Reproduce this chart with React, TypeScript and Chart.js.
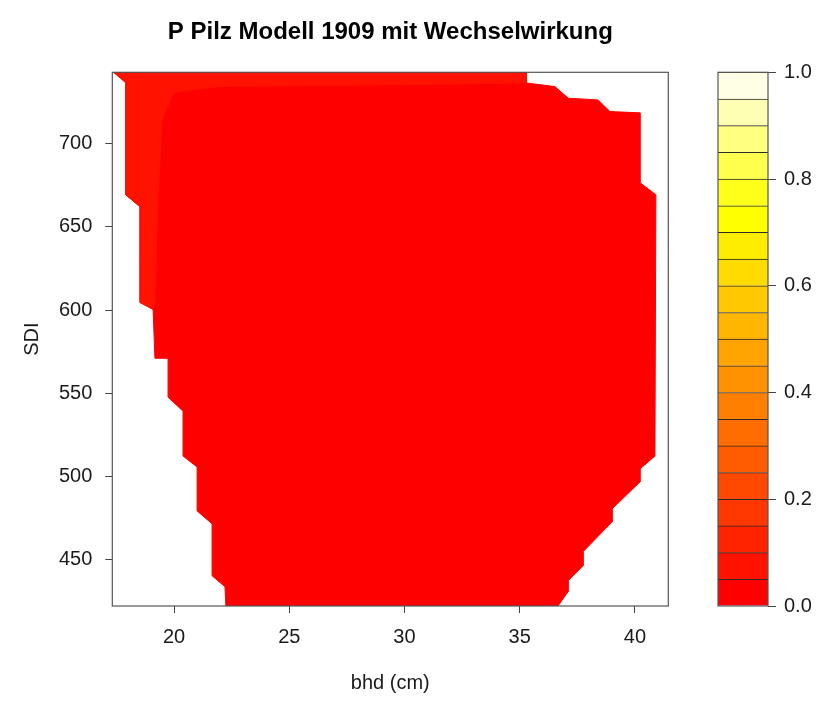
import React, { useEffect, useRef } from "react";
import { Chart, registerables } from "chart.js";

Chart.register(...registerables);

// ---- data ----
const TITLE = "P Pilz Modell 1909 mit Wechselwirkung";
const X_LABEL = "bhd (cm)";
const Y_LABEL = "SDI";

const X_MIN = 17.32;
const X_MAX = 41.45;
const Y_MIN = 422;
const Y_MAX = 743;

const xTicks = [20, 25, 30, 35, 40];
const yTicks = [450, 500, 550, 600, 650, 700];
const keyTicks = [0, 0.2, 0.4, 0.6, 0.8, 1.0];

// contour levels (0 .. 1 by 0.05)
const levels = [0, 0.05, 0.1, 0.15, 0.2, 0.25, 0.3, 0.35, 0.4, 0.45, 0.5, 0.55, 0.6, 0.65, 0.7, 0.75, 0.8, 0.85, 0.9, 0.95, 1.0];
// heat.colors(20)
const heatColors = [
  "#FF0000", "#FF1200", "#FF2400", "#FF3700", "#FF4900", "#FF5B00", "#FF6D00", "#FF8000",
  "#FF9200", "#FFA400", "#FFB600", "#FFC800", "#FFDB00", "#FFED00", "#FFFF00",
  "#FFFF1A", "#FFFF4D", "#FFFF80", "#FFFFB3", "#FFFFE6",
];

// region with P in [0, 0.05)
const band0Bhd = [17.35, 35.28, 35.28, 36.53, 37.11, 38.40, 38.92, 40.22, 40.22, 40.91, 40.87, 40.22, 40.22, 39.01, 39.01, 37.75, 37.75, 37.10, 37.10, 36.66, 22.25, 22.21, 21.65, 21.65, 21.00, 21.00, 20.39, 20.39, 19.74, 19.74, 19.17, 19.09, 18.52, 18.52, 17.90, 17.90];
const band0Sdi = [743, 743, 736.6, 734.4, 727.4, 726.4, 719.4, 718.6, 676.6, 669.4, 512.2, 504.4, 496.6, 480.4, 472.6, 454.6, 446.2, 437.2, 430.6, 422, 422, 433.6, 440.2, 471.4, 479.2, 505.6, 512.2, 539.2, 547.6, 571.0, 571.0, 600.4, 604.6, 662.2, 669.4, 736.6];

// region with P in [0.05, 0.1)
const band1Bhd = [17.35, 35.28, 35.28, 30.0, 22.0, 20.0, 19.48, 19.30, 19.17, 19.09, 18.52, 18.52, 17.90, 17.90];
const band1Sdi = [743, 743, 736.6, 735.5, 734.5, 731.0, 714.4, 666.4, 604.6, 600.4, 604.6, 662.2, 669.4, 736.6];

const FONT = "'Liberation Sans', Arial, Helvetica, sans-serif";
const TEXT = "#1a1a1a";

const boxPlugin = {
  id: "plotBox",
  afterDatasetsDraw(chart: any) {
    const { ctx, chartArea } = chart;
    ctx.save();
    ctx.strokeStyle = "#555";
    ctx.lineWidth = 1.2;
    ctx.strokeRect(chartArea.left, chartArea.top, chartArea.right - chartArea.left, chartArea.bottom - chartArea.top);
    ctx.restore();
  },
};

const toPoints = (xs: number[], ys: number[]) => xs.map((x, i) => ({ x, y: ys[i] }));

export default function App() {
  const mainRef = useRef<HTMLCanvasElement>(null);
  const keyRef = useRef<HTMLCanvasElement>(null);

  useEffect(() => {
    const main = new Chart(mainRef.current as HTMLCanvasElement, {
      type: "scatter",
      data: {
        datasets: [
          {
            label: "0.00-0.05",
            data: toPoints(band0Bhd, band0Sdi),
            showLine: true,
            fill: "shape",
            backgroundColor: heatColors[0],
            borderColor: heatColors[0],
            borderWidth: 1,
            pointRadius: 0,
            tension: 0,
            order: 2,
          },
          {
            label: "0.05-0.10",
            data: toPoints(band1Bhd, band1Sdi),
            showLine: true,
            fill: "shape",
            backgroundColor: heatColors[1],
            borderColor: heatColors[1],
            borderWidth: 1,
            pointRadius: 0,
            tension: 0,
            order: 1,
          },
        ],
      },
      options: {
        responsive: false,
        animation: false,
        layout: { padding: { left: 0, top: 0, right: 700 - 668.3, bottom: 0 } },
        plugins: {
          legend: { display: false },
          tooltip: { enabled: false },
          title: {
            display: true,
            fullSize: false,
            text: TITLE,
            color: "#000",
            font: { family: FONT, size: 24, weight: "bold" },
            padding: { top: 17.6, bottom: 25.9 },
          },
        },
        scales: {
          x: {
            type: "linear",
            min: X_MIN,
            max: X_MAX,
            afterBuildTicks: (s: any) => {
              s.ticks = xTicks.map((v) => ({ value: v }));
            },
            afterFit: (s: any) => {
              s.height = 102;
            },
            grid: { drawOnChartArea: false, tickLength: 7, color: "#444" },
            border: { display: false },
            ticks: { font: { family: FONT, size: 20 }, color: TEXT, padding: 12 },
            title: { display: true, text: X_LABEL, color: TEXT, font: { family: FONT, size: 20 }, padding: { top: 0, bottom: 13 } },
          },
          y: {
            type: "linear",
            min: Y_MIN,
            max: Y_MAX,
            afterBuildTicks: (s: any) => {
              s.ticks = yTicks.map((v) => ({ value: v }));
            },
            afterFit: (s: any) => {
              s.width = 112.3;
            },
            grid: { drawOnChartArea: false, tickLength: 7, color: "#444" },
            border: { display: false },
            ticks: { font: { family: FONT, size: 20 }, color: TEXT, padding: 13 },
            title: { display: true, text: Y_LABEL, color: TEXT, font: { family: FONT, size: 20 }, padding: { top: 20, bottom: 0 } },
          },
        },
      } as any,
      plugins: [boxPlugin],
    });

    const key = new Chart(keyRef.current as HTMLCanvasElement, {
      type: "bar",
      data: {
        labels: [""],
        datasets: heatColors.map((c, i) => ({
          label: `${levels[i]}-${levels[i + 1]}`,
          data: [[levels[i], levels[i + 1]]],
          backgroundColor: c,
          borderColor: "#2a2a2a",
          borderWidth: { top: 1, bottom: 0, left: 0, right: 0 },
          borderSkipped: false,
          grouped: false,
          barPercentage: 1,
          categoryPercentage: 1,
        })),
      } as any,
      options: {
        responsive: false,
        animation: false,
        layout: { padding: { left: 18, top: 72.3, right: 0, bottom: 102 } },
        plugins: { legend: { display: false }, tooltip: { enabled: false } },
        scales: {
          x: { display: false },
          y: {
            position: "right",
            min: 0,
            max: 1,
            afterBuildTicks: (s: any) => {
              s.ticks = keyTicks.map((v) => ({ value: v }));
            },
            afterFit: (s: any) => {
              s.width = 55;
            },
            grid: { drawOnChartArea: false, tickLength: 8, color: "#444" },
            border: { display: false },
            ticks: {
              font: { family: FONT, size: 20 },
              color: TEXT,
              padding: 8,
              callback: (v: any) => Number(v).toFixed(1),
            },
          },
        },
      } as any,
      plugins: [boxPlugin],
    });

    return () => {
      main.destroy();
      key.destroy();
    };
  }, []);

  return (
    <div style={{ position: "absolute", left: 0, top: 0, width: 823, height: 708, background: "#fff" }}>
      <canvas ref={mainRef} width={700} height={708} style={{ position: "absolute", left: 0, top: 0 }} />
      <canvas ref={keyRef} width={123} height={708} style={{ position: "absolute", left: 700, top: 0 }} />
    </div>
  );
}
